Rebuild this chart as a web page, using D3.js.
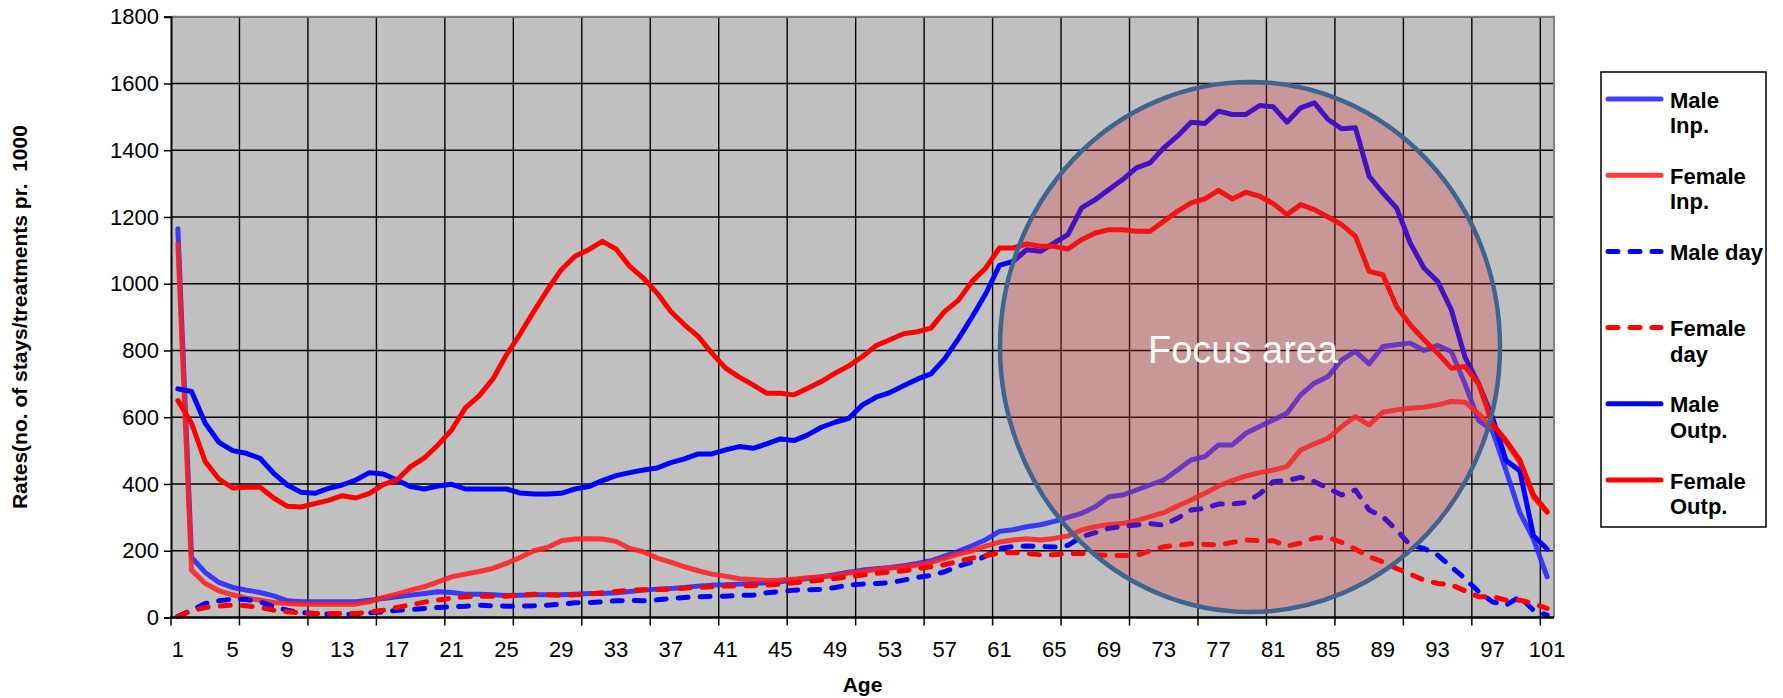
<!DOCTYPE html>
<html>
<head>
<meta charset="utf-8">
<script src="https://cdn.jsdelivr.net/npm/d3@7"></script>
<style>
  body { margin: 0; background: #fff; }
  text { font-family: 'Liberation Sans', Arial, sans-serif; }
</style>
</head>
<body>
<svg id="chart"></svg>
<script>
const ages = d3.range(1, 102)
const ageLabels = d3.range(1, 102, 4)
const yTicks = d3.range(0, 1801, 200)

const maleInp = [1165, 180, 135, 105, 90, 82, 75, 65, 50, 47, 47, 47, 47, 47, 52, 57, 62, 67, 72, 77,
  75, 70, 70, 68, 66, 67, 68, 68, 68, 70, 72, 72, 74, 78, 82, 85, 87, 90, 94, 97,
  98, 100, 102, 104, 107, 112, 117, 122, 128, 136, 142, 146, 150, 155, 162, 170, 184, 198, 215, 233,
  258, 263, 272, 278, 288, 300, 312, 332, 362, 367, 382, 397, 412, 442, 472, 482, 517, 517, 552, 572,
  592, 612, 667, 702, 722, 772, 797, 760, 812, 817, 822, 800, 815, 797, 700, 590, 560, 440, 315, 235, 122]
const femaleInp = [1120, 142, 102, 80, 68, 58, 52, 45, 42, 40, 40, 40, 40, 40, 47, 60, 70, 82, 92, 107,
  122, 130, 138, 147, 162, 180, 200, 210, 230, 235, 236, 235, 228, 207, 197, 178, 166, 152, 140, 130,
  124, 116, 114, 111, 112, 115, 119, 122, 125, 133, 138, 144, 148, 152, 157, 165, 177, 190, 200, 214,
  226, 232, 236, 232, 237, 244, 262, 272, 279, 282, 290, 302, 314, 334, 352, 372, 394, 410, 424, 434,
  442, 452, 502, 520, 537, 572, 602, 577, 615, 622, 627, 630, 637, 647, 645, 610, 570, 525, 465, 360, 315]
const maleDay = [3, 22, 42, 50, 55, 54, 47, 32, 22, 15, 12, 10, 10, 10, 14, 17, 22, 24, 27, 30,
  32, 34, 37, 35, 34, 34, 35, 37, 40, 44, 45, 47, 50, 51, 50, 53, 57, 60, 62, 63,
  64, 66, 67, 74, 78, 82, 83, 84, 90, 97, 100, 102, 104, 112, 120, 126, 137, 154, 166, 184,
  207, 213, 214, 213, 211, 216, 242, 254, 267, 273, 277, 281, 277, 297, 322, 327, 340, 340, 344, 370,
  407, 410, 420, 407, 387, 367, 382, 322, 302, 262, 217, 207, 187, 152, 117, 77, 47, 37, 62, 22, 7]
const femaleDay = [3, 20, 30, 34, 37, 35, 30, 22, 17, 14, 12, 12, 12, 12, 16, 22, 30, 38, 46, 52,
  58, 62, 64, 64, 64, 67, 70, 68, 66, 68, 70, 74, 78, 82, 83, 84, 85, 88, 90, 92,
  94, 95, 96, 97, 100, 104, 108, 112, 117, 122, 127, 132, 136, 140, 146, 152, 158, 168, 178, 186,
  193, 195, 192, 188, 188, 192, 192, 188, 186, 186, 186, 200, 212, 217, 221, 219, 217, 225, 232, 230,
  230, 214, 223, 238, 240, 225, 205, 182, 167, 147, 130, 112, 102, 98, 80, 62, 63, 52, 52, 42, 27]
const maleOutp = [685, 677, 582, 525, 500, 492, 477, 432, 397, 375, 372, 387, 397, 412, 434, 430, 412, 392, 385, 394,
  399, 385, 385, 385, 385, 373, 370, 370, 372, 385, 392, 410, 425, 434, 442, 448, 464, 475, 490, 490,
  502, 512, 507, 520, 535, 530, 547, 570, 585, 597, 637, 660, 674, 694, 714, 730, 775, 835, 900, 970,
  1055, 1067, 1102, 1097, 1122, 1147, 1227, 1252, 1282, 1312, 1347, 1362, 1407, 1442, 1484, 1480, 1517, 1507, 1507, 1534,
  1530, 1484, 1527, 1542, 1492, 1464, 1467, 1322, 1272, 1227, 1122, 1047, 1007, 922, 780, 700, 600, 470, 440, 245, 205]
const femaleOutp = [650, 582, 467, 415, 388, 390, 390, 358, 333, 331, 341, 351, 365, 358, 372, 398, 412, 452, 478, 517,
  562, 628, 664, 714, 787, 850, 917, 982, 1042, 1082, 1102, 1127, 1104, 1052, 1017, 972, 917, 877, 842, 792,
  747, 720, 697, 672, 672, 667, 687, 707, 732, 754, 782, 815, 832, 850, 856, 867, 917, 950, 1007, 1047,
  1107, 1107, 1119, 1112, 1112, 1104, 1132, 1152, 1162, 1162, 1157, 1157, 1187, 1217, 1242, 1254, 1280, 1254, 1274, 1262,
  1240, 1207, 1237, 1222, 1200, 1177, 1142, 1037, 1027, 932, 877, 832, 792, 747, 752, 700, 580, 530, 472, 367, 317]

const series = [
  { name: ['Male', 'Inp.'], values: maleInp, color: '#2626ff', dash: null, opacity: 0.88 },
  { name: ['Female', 'Inp.'], values: femaleInp, color: '#ff2020', dash: null, opacity: 0.88 },
  { name: ['Male day'], values: maleDay, color: '#0000ff', dash: '10,12', opacity: 1 },
  { name: ['Female', 'day'], values: femaleDay, color: '#ff0000', dash: '10,12', opacity: 1 },
  { name: ['Male', 'Outp.'], values: maleOutp, color: '#0000ff', dash: null, opacity: 1 },
  { name: ['Female', 'Outp.'], values: femaleOutp, color: '#ff0000', dash: null, opacity: 1 },
]

const svgWidth = 1783
const svgHeight = 698
const plotLeft = 171, plotRight = 1554, plotTop = 16.7, plotBottom = 617.5

const svg = d3.select('#chart').attr('width', svgWidth).attr('height', svgHeight)

const x = d3.scaleBand().domain(ages).range([plotLeft, plotRight]).padding(0)
const y = d3.scaleLinear().domain([0, 1800]).range([plotBottom, plotTop])
const cx = (a) => x(a) + x.bandwidth() / 2

// plot area
svg.append('rect')
  .attr('x', plotLeft).attr('y', plotTop)
  .attr('width', plotRight - plotLeft).attr('height', plotBottom - plotTop)
  .attr('fill', '#c0c0c0')

// gridlines
const gridX = ages.filter((a) => a % 5 === 0).map((a) => x(a) + x.bandwidth())
svg.append('g')
  .selectAll('line')
  .data(gridX)
  .join('line')
  .attr('x1', (d) => d).attr('x2', (d) => d)
  .attr('y1', plotTop).attr('y2', plotBottom)
  .attr('stroke', '#000').attr('stroke-width', 1.4)

svg.append('g')
  .selectAll('line')
  .data(yTicks.filter((d) => d > 0))
  .join('line')
  .attr('x1', plotLeft).attr('x2', plotRight)
  .attr('y1', (d) => y(d)).attr('y2', (d) => y(d))
  .attr('stroke', '#000').attr('stroke-width', 1.4)

// border top / right
svg.append('path')
  .attr('d', `M${plotLeft},${plotTop}H${plotRight}V${plotBottom}`)
  .attr('fill', 'none').attr('stroke', '#808080').attr('stroke-width', 2)

// lines
const line = d3.line().x((d, i) => cx(ages[i])).y((d) => y(d))
svg.append('g')
  .selectAll('path')
  .data(series)
  .join('path')
  .attr('d', (d) => line(d.values))
  .attr('fill', 'none')
  .attr('stroke', (d) => d.color)
  .attr('stroke-opacity', (d) => d.opacity)
  .attr('stroke-width', 5)
  .attr('stroke-linejoin', 'round')
  .attr('stroke-linecap', 'round')
  .attr('stroke-dasharray', (d) => d.dash)

// y axis
const yAxis = d3.axisLeft(y).tickValues(yTicks).tickFormat(d3.format('d')).tickSize(7).tickPadding(5)
svg.append('g')
  .attr('transform', `translate(${plotLeft},0)`)
  .call(yAxis)
  .call((g) => g.select('.domain').attr('stroke', '#000').attr('stroke-width', 2))
  .call((g) => g.selectAll('.tick line').attr('stroke', '#000').attr('stroke-width', 1.5))
  .call((g) => g.selectAll('.tick text').attr('font-size', 22).attr('fill', '#000')
    .attr('font-family', "'Liberation Sans', Arial, sans-serif"))

// x axis: labels every 4 ages, tick marks on every 5th boundary
const xAxis = d3.axisBottom(x).tickValues(ageLabels).tickSize(0).tickPadding(24)
svg.append('g')
  .attr('transform', `translate(0,${plotBottom})`)
  .call(xAxis)
  .call((g) => g.select('.domain').remove())
  .call((g) => g.selectAll('.tick text').attr('font-size', 22).attr('fill', '#000')
    .attr('font-family', "'Liberation Sans', Arial, sans-serif"))

svg.append('g')
  .selectAll('line')
  .data([plotLeft].concat(gridX))
  .join('line')
  .attr('x1', (d) => d).attr('x2', (d) => d)
  .attr('y1', plotBottom).attr('y2', plotBottom + 8)
  .attr('stroke', '#000').attr('stroke-width', 1.5)

svg.append('line')
  .attr('x1', plotLeft - 1).attr('x2', plotRight)
  .attr('y1', plotBottom).attr('y2', plotBottom)
  .attr('stroke', '#000').attr('stroke-width', 2.5)

// axis titles
svg.append('text')
  .attr('x', (plotLeft + plotRight) / 2).attr('y', 692)
  .attr('text-anchor', 'middle')
  .attr('font-size', 21).attr('font-weight', 'bold')
  .text('Age')

svg.append('text')
  .attr('transform', `translate(27,${(plotTop + plotBottom) / 2}) rotate(-90)`)
  .attr('text-anchor', 'middle')
  .attr('font-size', 21).attr('font-weight', 'bold')
  .style('white-space', 'pre')
  .text('Rates(no. of stays/treatments pr.  1000')

// focus ellipse
svg.append('ellipse')
  .attr('cx', 1250).attr('cy', 347)
  .attr('rx', 250).attr('ry', 265)
  .attr('fill', 'rgba(220,60,60,0.3)')
  .attr('stroke', '#3e6490').attr('stroke-width', 4.5)

svg.append('text')
  .attr('x', 1148).attr('y', 363)
  .attr('font-size', 38)
  .attr('font-family', "'Open Sans', 'Noto Sans', sans-serif")
  .attr('fill', '#fff')
  .text('Focus area')

// legend
const legend = svg.append('g')
legend.append('rect')
  .attr('x', 1601).attr('y', 72).attr('width', 165).attr('height', 455)
  .attr('fill', '#fff').attr('stroke', '#000').attr('stroke-width', 1.5)

const item = legend.selectAll('g.item')
  .data(series)
  .join('g')
  .attr('class', 'item')
  .attr('transform', (d, i) => `translate(0,${99 + i * 76.2})`)

item.append('line')
  .attr('x1', 1608).attr('x2', 1661)
  .attr('stroke', (d) => d.color)
  .attr('stroke-opacity', (d) => d.opacity)
  .attr('stroke-width', 5)
  .attr('stroke-linecap', 'round')
  .attr('stroke-dasharray', (d) => d.dash)

item.append('text')
  .attr('x', 1670)
  .attr('font-size', 22).attr('font-weight', 'bold')
  .selectAll('tspan')
  .data((d) => d.name)
  .join('tspan')
  .attr('x', 1670)
  .attr('y', (d, i) => 8.5 + i * 25.5)
  .text((d) => d)
</script>
</body>
</html>
